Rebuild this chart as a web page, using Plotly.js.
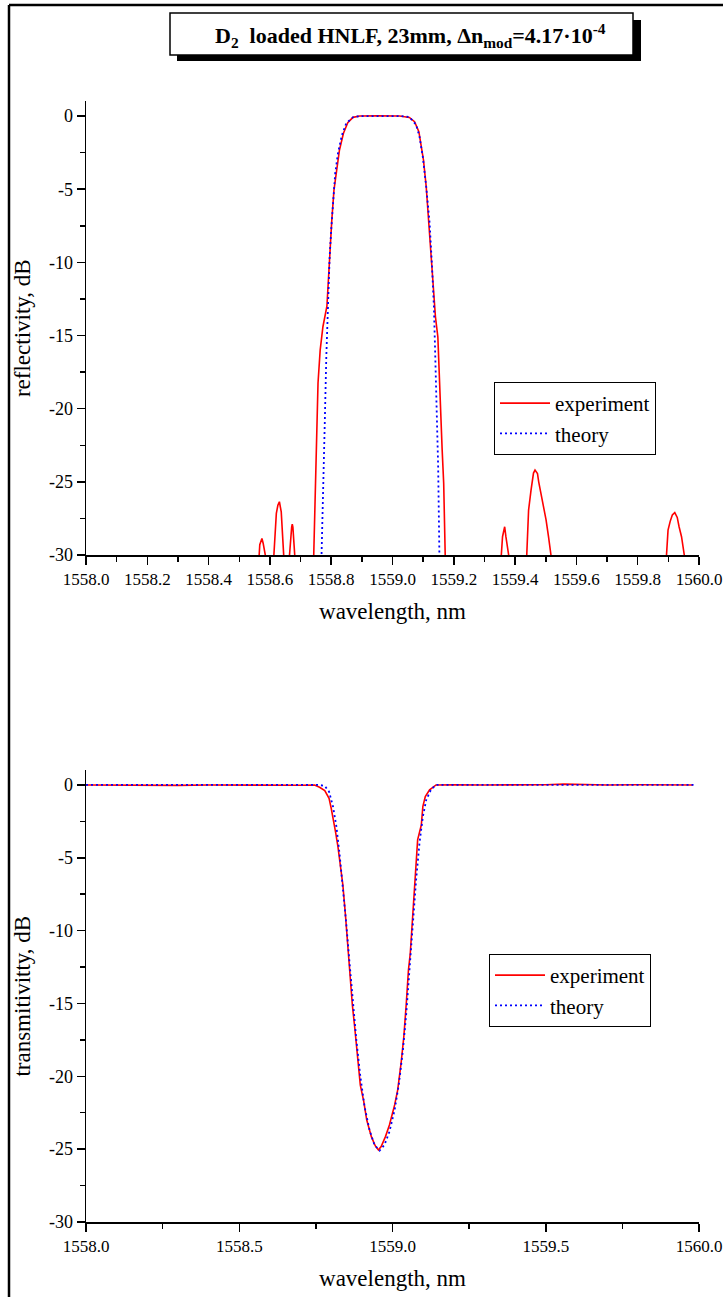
<!DOCTYPE html>
<html>
<head>
<meta charset="utf-8">
<script src="https://cdn.plot.ly/plotly-3.0.1.min.js"></script>
<style>
html,body{margin:0;padding:0;background:#fff;}
#chart{width:723px;height:1297px;}
</style>
</head>
<body>
<div id="chart"></div>
<script>
// ---------- data ----------
// Reflection spectrum, experiment (values below -30 dB are the clipped noise floor)
const reflExpWl = [1558.0,1558.56,
  1558.565,1558.567,1558.574,1558.578,1558.585,1558.59,1558.608,
  1558.613,1558.621,1558.626,1558.631,1558.634,1558.637,1558.645,1558.65,1558.66,
  1558.664,1558.671,1558.673,1558.675,1558.681,1558.686,1558.735,
  1558.743,1558.749,1558.757,1558.764,1558.773,1558.786,1558.792,1558.797,1558.802,1558.809,1558.817,1558.827,1558.840,1558.854,1558.871,1558.893,1558.95,1559.0,1559.023,1559.055,1559.072,1559.086,1559.093,1559.101,1559.110,1559.118,1559.127,1559.134,1559.140,1559.148,1559.153,1559.162,1559.167,1559.173,
  1559.178,1559.35,
  1559.355,1559.359,1559.366,1559.370,1559.379,1559.384,1559.433,
  1559.438,1559.444,1559.452,1559.460,1559.465,1559.473,1559.477,1559.482,1559.490,1559.501,1559.509,1559.517,1559.522,1559.889,
  1559.894,1559.899,1559.906,1559.913,1559.921,1559.929,1559.935,1559.943,1559.952,1559.957,1560.0];
const reflExp = [-36,-36,
  -30,-29.3,-28.87,-29.2,-30,-36,-36,
  -30,-27.16,-26.6,-26.36,-26.7,-27.05,-30,-36,-36,
  -30,-28.1,-27.9,-28.1,-30,-36,-36,
  -30,-24.9,-18.25,-16.0,-14.4,-13.0,-10.5,-9.16,-7.1,-5.06,-3.7,-2.32,-1.18,-0.46,-0.09,0,0.02,0,0,-0.1,-0.39,-1.07,-1.87,-3.0,-4.83,-7.1,-10.07,-11.9,-13.7,-15.1,-18.25,-22.8,-25.1,-30,
  -36,-36,
  -30,-28.75,-28.07,-28.75,-30,-36,-36,
  -30,-26.93,-25.56,-24.4,-24.2,-24.43,-25.0,-25.56,-26.25,-27.6,-28.75,-30,-36,-36,
  -30,-28.3,-27.7,-27.27,-27.1,-27.43,-28.07,-28.75,-30,-36,-36];

// Reflection spectrum, theory
const reflThWl = [1558.765,1558.768,1558.773,1558.779,1558.784,1558.789,1558.795,1558.800,1558.806,1558.813,1558.822,1558.835,1558.849,1558.871,1558.893,1558.96,1559.026,1559.055,1559.077,1559.088,1559.099,1559.110,1559.121,1559.129,1559.135,1559.139,1559.144,1559.149,1559.153,1559.156];
const reflTh = [-33,-30,-25.6,-21.0,-16.45,-12.58,-9.6,-7.8,-5.74,-3.92,-2.55,-1.3,-0.5,-0.09,0,0,0,-0.07,-0.6,-1.4,-2.8,-4.83,-7.3,-10.3,-13.0,-16.0,-19.9,-24.0,-30,-33];

// Transmission spectrum, experiment
const transExpWl = [1558.0,1558.1,1558.2,1558.3,1558.4,1558.5,1558.6,1558.7,1558.746,
  1558.762,1558.779,1558.793,1558.800,1558.808,1558.814,1558.822,1558.831,1558.838,1558.846,1558.854,1558.862,1558.869,1558.877,1558.887,1558.895,1558.906,1558.916,1558.931,1558.944,1558.954,
  1558.963,1558.977,1558.990,1559.007,1559.017,1559.028,1559.037,1559.045,1559.052,1559.058,1559.064,1559.072,1559.077,1559.082,1559.094,1559.099,1559.107,1559.121,1559.142,
  1559.2,1559.3,1559.4,1559.5,1559.56,1559.6,1559.7,1559.8,1559.9,1559.98];
const transExp = [0,-0.02,0,-0.03,0,-0.02,0,-0.02,0,
  -0.16,-0.39,-0.92,-1.6,-2.4,-3.2,-4.23,-5.6,-6.86,-8.8,-11.2,-13.16,-15.1,-16.7,-18.87,-20.6,-21.7,-23.0,-24.14,-24.78,-25.05,
  -24.82,-24.14,-23.34,-21.96,-20.93,-19.1,-17.27,-14.98,-12.7,-11.55,-9.5,-7.43,-5.6,-3.77,-2.75,-1.49,-0.8,-0.34,0,
  0.02,0,0,0.02,0.06,0.04,0,0.02,0,0];

// Transmission spectrum, theory
const transThWl = [1558.0,1558.762,1558.779,1558.793,1558.806,1558.817,1558.827,1558.838,1558.849,1558.860,1558.871,1558.882,1558.895,1558.909,1558.925,1558.941,1558.958,1558.974,1558.990,1559.007,1559.021,1559.034,1559.045,1559.055,1559.066,1559.077,1559.088,1559.099,1559.110,1559.126,1559.142,1559.99];
const transTh = [0,0,-0.07,-0.46,-1.49,-2.86,-4.69,-6.98,-9.5,-12.24,-14.98,-17.5,-20.0,-22.1,-23.68,-24.7,-25.1,-24.7,-23.8,-22.3,-20.5,-18.2,-15.67,-12.7,-9.5,-6.52,-4.0,-2.18,-1.03,-0.3,0,0];

// tick labels
const yTickVals = [0,-5,-10,-15,-20,-25,-30];
const yTickText = ['0','-5','-10','-15','-20','-25','-30'];
const xTickValsTop = [1558.0,1558.2,1558.4,1558.6,1558.8,1559.0,1559.2,1559.4,1559.6,1559.8,1560.0];
const xTickTextTop = ['1558.0','1558.2','1558.4','1558.6','1558.8','1559.0','1559.2','1559.4','1559.6','1559.8','1560.0'];
const xTickValsBottom = [1558.0,1558.5,1559.0,1559.5,1560.0];
const xTickTextBottom = ['1558.0','1558.5','1559.0','1559.5','1560.0'];

const seriesNames = ['experiment','theory'];
const xTitle = 'wavelength, nm';
const yTitleTop = 'reflectivity, dB';
const yTitleBottom = 'transmitivitty, dB';
const chartTitle = '<b>D<sub>2</sub>\u00a0 loaded HNLF, 23mm, \u0394n<sub>mod</sub>=4.17\u00b710<sup>-4</sup></b>';

// ---------- layout helpers ----------
const W = 723, H = 1297;
const px = v => v / W;
const py = v => 1 - v / H;
const FONT = 'Liberation Serif, Times New Roman, serif';

const red = '#ff0000', blue = '#0000ff';

const traces = [
  {x: reflExpWl, y: reflExp, name: seriesNames[0], xaxis:'x', yaxis:'y', mode:'lines',
   line:{color:red, width:1.6}, legend:'legend'},
  {x: reflThWl, y: reflTh, name: seriesNames[1], xaxis:'x', yaxis:'y', mode:'lines',
   line:{color:blue, width:1.8, dash:'2px,3px'}, legend:'legend'},
  {x: transExpWl, y: transExp, name: seriesNames[0], xaxis:'x2', yaxis:'y2', mode:'lines',
   line:{color:red, width:1.6}, legend:'legend2'},
  {x: transThWl, y: transTh, name: seriesNames[1], xaxis:'x2', yaxis:'y2', mode:'lines',
   line:{color:blue, width:1.8, dash:'2px,3px'}, legend:'legend2'}
];

function xAx(anchor, tv, tt, minorDtick) {
  return {
    domain:[px(86), px(699)], anchor: anchor, range:[1558,1560],
    showline:true, linecolor:'#000', linewidth:1.5, mirror:false,
    ticks:'outside', ticklen:8, tickwidth:1.5, tickcolor:'#000',
    tickmode:'array', tickvals:tv, ticktext:tt, ticklabeloverflow:'allow',
    minor:{ticks:'outside', ticklen:5, tickwidth:1.5, tickcolor:'#000', dtick:minorDtick, tick0:1558, showgrid:false},
    showgrid:false, zeroline:false, automargin:false,
    tickfont:{family:FONT, size:17, color:'#000'},
    title:{text:xTitle, font:{family:FONT, size:23, color:'#000'}, standoff:15}
  };
}
function yAx(domain, anchor, title) {
  return {
    domain: domain, anchor: anchor, range:[-30,1],
    showline:true, linecolor:'#000', linewidth:1.5, mirror:false,
    ticks:'outside', ticklen:8, tickwidth:1.5, tickcolor:'#000',
    tickmode:'array', tickvals:yTickVals, ticktext:yTickText, ticklabeloverflow:'allow',
    minor:{ticks:'outside', ticklen:5, tickwidth:1.5, tickcolor:'#000', dtick:2.5, tick0:0, showgrid:false},
    showgrid:false, zeroline:false, automargin:false,
    tickfont:{family:FONT, size:18, color:'#000'},
    title:{text:title, font:{family:FONT, size:23, color:'#000'}, standoff:12}
  };
}

const legendStyle = (x, y) => ({
  x: x, y: y, xanchor:'left', yanchor:'top', xref:'paper', yref:'paper',
  bgcolor:'#fff', bordercolor:'#000', borderwidth:1,
  font:{family:FONT, size:21, color:'#000'},
  tracegroupgap:0, itemwidth:50
});

const layout = {
  width: W, height: H,
  margin:{l:0, r:0, t:0, b:0},
  paper_bgcolor:'#fff', plot_bgcolor:'rgba(0,0,0,0)',
  font:{family:FONT, color:'#000'},
  showlegend:true,
  xaxis: xAx('y', xTickValsTop, xTickTextTop, 0.1),
  yaxis: yAx([py(555), py(101.4)], 'x', yTitleTop),
  xaxis2: xAx('y2', xTickValsBottom, xTickTextBottom, 0.25),
  yaxis2: yAx([py(1222), py(770.4)], 'x2', yTitleBottom),
  legend: legendStyle(px(494), py(382)),
  legend2: legendStyle(px(489), py(954)),
  shapes: [
    // outer frame
    {type:'line', xref:'paper', yref:'paper', x0:px(9), x1:px(9), y0:py(1297), y1:py(5), line:{color:'#000', width:2.5}},
    {type:'line', xref:'paper', yref:'paper', x0:px(9), x1:px(723), y0:py(5), y1:py(5), line:{color:'#000', width:2.5}},
    // title box shadow + box
    {type:'rect', xref:'paper', yref:'paper', x0:px(177), x1:px(641), y0:py(61), y1:py(20), fillcolor:'#000', line:{width:0}},
    {type:'rect', xref:'paper', yref:'paper', x0:px(170), x1:px(633), y0:py(55), y1:py(13), fillcolor:'#fff', line:{color:'#000', width:1.5}}
  ],
  annotations: [
    {text: chartTitle, xref:'paper', yref:'paper', x:px(410), y:py(35), xanchor:'center', yanchor:'middle',
     showarrow:false, font:{family:FONT, size:22, color:'#000'}}
  ]
};

Plotly.newPlot('chart', traces, layout, {staticPlot:true, displayModeBar:false});
</script>
</body>
</html>
